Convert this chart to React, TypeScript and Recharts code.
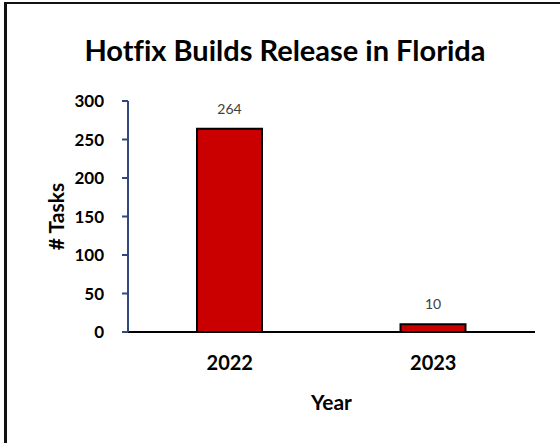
import React from 'react';
import { BarChart, Bar, XAxis, YAxis, LabelList, Label } from 'recharts';

const years = ['2022', '2023'];
const tasks = [264, 10];
const yTicks = [0, 50, 100, 150, 200, 250, 300];

const data = years.map((year, i) => ({ year, tasks: tasks[i] }));

const FONT = 'Lato, "Open Sans", sans-serif';

export default function App() {
  return (
    <div
      style={{
        position: 'absolute',
        left: 0,
        top: 0,
        width: 560,
        height: 443,
        overflow: 'hidden',
        background: '#fff',
        fontFamily: FONT,
      }}
    >
      {/* chart frame drawn as two lines: only top and left edges fall inside the picture */}
      <svg width={560} height={443} style={{ position: 'absolute', left: 0, top: 0 }}>
        <line x1={4} y1={3} x2={560} y2={3} stroke="#111" strokeWidth={2} />
        <line x1={5.5} y1={2} x2={5.5} y2={443} stroke="#111" strokeWidth={3} />
      </svg>
      <div
        style={{
          position: 'absolute',
          left: 0,
          top: 33,
          width: 560,
          paddingLeft: 10,
          boxSizing: 'border-box',
          textAlign: 'center',
          fontWeight: 700,
          fontSize: 29,
          lineHeight: '34px',
          color: '#000',
          fontVariantLigatures: 'none',
          whiteSpace: 'nowrap',
        }}
      >
        Hotfix Builds Release in Florida
      </div>
      <div style={{ position: 'absolute', left: 0, top: 0 }}>
        <BarChart
          width={560}
          height={443}
          data={data}
          margin={{ top: 101, right: 25, left: 0, bottom: 0 }}
          barCategoryGap={0}
        >
          <XAxis
            dataKey="year"
            height={111}
            axisLine={{ stroke: '#000', strokeWidth: 2 }}
            tickLine={false}
            tickMargin={18}
            tick={{ fill: '#000', fontSize: 20, fontWeight: 700, fontFamily: FONT }}
          >
            <Label
              content={({ viewBox }: any) => (
                <text
                  x={viewBox.x + viewBox.width / 2}
                  y={410}
                  textAnchor="middle"
                  fontFamily={FONT}
                  fontWeight={700}
                  fontSize={21}
                  fill="#000"
                >
                  Year
                </text>
              )}
            />
          </XAxis>
          <YAxis
            width={128}
            domain={[0, 300]}
            ticks={yTicks}
            interval={0}
            axisLine={{ stroke: '#2F4A7A', strokeWidth: 2 }}
            tickLine={{ stroke: '#2F4A7A', strokeWidth: 2 }}
            tickSize={6}
            tickMargin={18}
            tick={{ fill: '#000', fontSize: 17, fontWeight: 700, fontFamily: FONT }}
          >
            <Label
              content={({ viewBox }: any) => {
                const cx = viewBox.x + 55;
                const cy = viewBox.y + viewBox.height / 2;
                return (
                  <text
                    x={cx}
                    y={cy}
                    textAnchor="middle"
                    dominantBaseline="central"
                    transform={`rotate(-90 ${cx} ${cy})`}
                    fontFamily={FONT}
                    fontWeight={700}
                    fontSize={21}
                    fill="#000"
                  >
                    # Tasks
                  </text>
                );
              }}
            />
          </YAxis>
          <Bar
            dataKey="tasks"
            barSize={65}
            fill="#CA0000"
            stroke="#000"
            strokeWidth={2}
            isAnimationActive={false}
          >
            <LabelList
              dataKey="tasks"
              position="top"
              offset={15}
              fill="#404040"
              fontSize={14}
              fontFamily={FONT}
            />
          </Bar>
        </BarChart>
      </div>
    </div>
  );
}
